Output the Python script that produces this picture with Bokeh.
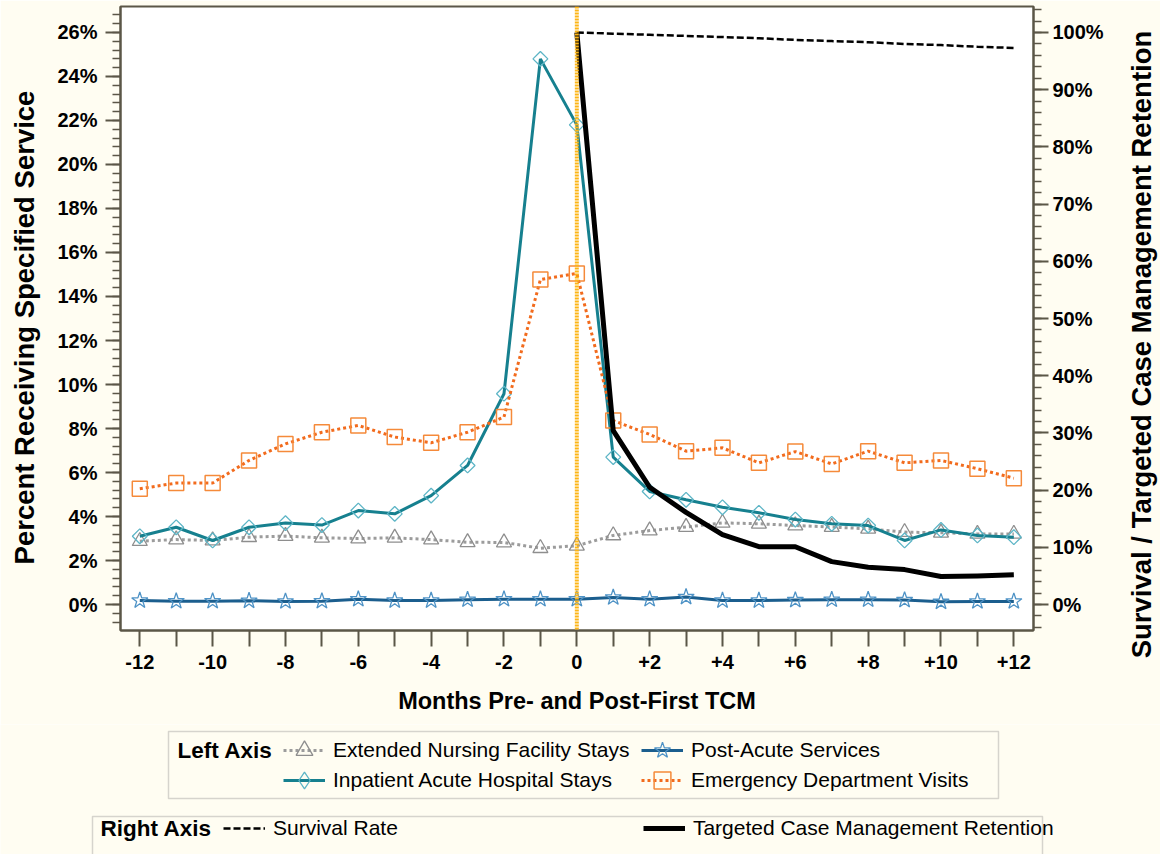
from bokeh.plotting import figure
from bokeh.models import (Range1d, LinearAxis, FixedTicker, PrintfTickFormatter,
                          Legend, LegendItem, Label, BoxAnnotation, Span)
from bokeh.embed import file_html
from bokeh.resources import INLINE

# ---------------- data ----------------
months = [-12, -11, -10, -9, -8, -7, -6, -5, -4, -3, -2, -1, 0,
          1, 2, 3, 4, 5, 6, 7, 8, 9, 10, 11, 12]
post_months = [0, 1, 2, 3, 4, 5, 6, 7, 8, 9, 10, 11, 12]

extended_nursing = [2.88, 2.95, 2.91, 3.06, 3.11, 3.03, 3.00, 3.03, 2.95, 2.83, 2.82, 2.56, 2.67,
                    3.14, 3.36, 3.52, 3.71, 3.67, 3.59, 3.52, 3.44, 3.29, 3.26, 3.21, 3.21]
post_acute = [0.18, 0.15, 0.15, 0.17, 0.14, 0.15, 0.24, 0.18, 0.18, 0.22, 0.24, 0.24, 0.24,
              0.32, 0.24, 0.34, 0.18, 0.18, 0.20, 0.22, 0.22, 0.20, 0.12, 0.14, 0.14]
inpatient = [3.10, 3.51, 2.91, 3.51, 3.70, 3.61, 4.27, 4.12, 4.95, 6.32, 9.58, 24.80, 21.80,
             6.70, 5.14, 4.76, 4.42, 4.17, 3.86, 3.67, 3.59, 2.91, 3.39, 3.14, 3.06]
emergency = [5.26, 5.52, 5.52, 6.55, 7.30, 7.83, 8.14, 7.61, 7.35, 7.83, 8.52, 14.77, 15.05,
             8.36, 7.73, 6.97, 7.12, 6.44, 6.95, 6.39, 6.97, 6.44, 6.55, 6.17, 5.74]
survival = [100.0, 99.8, 99.6, 99.4, 99.2, 99.0, 98.7, 98.5, 98.3, 98.0, 97.8, 97.5, 97.3]
tcm_retention = [100.0, 30.4, 20.5, 16.1, 12.2, 10.1, 10.1, 7.5, 6.5, 6.1, 4.9, 5.0, 5.2]

reference_month = 0

x_tick_values = months
x_tick_labels = ["-12", "", "-10", "", "-8", "", "-6", "", "-4", "", "-2", "", "0",
                 "", "+2", "", "+4", "", "+6", "", "+8", "", "+10", "", "+12"]
left_tick_values = [0, 2, 4, 6, 8, 10, 12, 14, 16, 18, 20, 22, 24, 26]
right_tick_values = [0, 10, 20, 30, 40, 50, 60, 70, 80, 90, 100]

x_axis_title = "Months Pre- and Post-First TCM"
left_axis_title = "Percent Receiving Specified Service"
right_axis_title = "Survival / Targeted Case Management Retention"

# ---------------- style ----------------
FONT = "Liberation Sans"
AXC = "#5B5647"
BG = "#FFFDF2"

ENF_STYLE = dict(line_color="#9C9C9C", line_width=3, line_dash="3 3")
ENF_MK = dict(marker="triangle", size=15, fill_alpha=0, line_color="#8E8E8E", line_width=1.3)
PA_STYLE = dict(line_color="#1B5E8E", line_width=3)
PA_MK = dict(marker="star", size=17, fill_alpha=0, line_color="#4F93C6", line_width=1.3)
IN_STYLE = dict(line_color="#16808F", line_width=3)
IN_MK = dict(marker="square", angle=0.7854, size=10.5, fill_alpha=0, line_color="#5DB5C6",
             line_width=1.3)
IN_MK_LEG = dict(marker="diamond", size=17, fill_alpha=0, line_color="#5DB5C6", line_width=1.3)
ED_STYLE = dict(line_color="#F26B1D", line_width=3, line_dash="3 3")
ED_MK = dict(marker="square", size=15, fill_alpha=0, line_color="#F58A3A", line_width=1.5)
SV_STYLE = dict(line_color="black", line_width=2.5, line_dash="7 3")
TCM_STYLE = dict(line_color="black", line_width=5, line_join="round")

P_HEIGHT = 724
p = figure(width=1160, height=P_HEIGHT, output_backend="svg", toolbar_location=None,
           x_range=Range1d(-12.53, 12.54), y_range=Range1d(-1.1818, 27.1818),
           min_border_left=120, min_border_right=127, min_border_top=6,
           min_border_bottom=P_HEIGHT - 630, background_fill_color="white",
           border_fill_color=BG)
p.extra_y_ranges = {"right": Range1d(-4.545, 104.545)}
p.xgrid.visible = False
p.ygrid.visible = False
p.outline_line_color = AXC
p.outline_line_width = 2

# x axis
xa = p.xaxis[0]
xa.ticker = FixedTicker(ticks=x_tick_values)
xa.major_label_overrides = {v: s for v, s in zip(x_tick_values, x_tick_labels)}
xa.axis_label = x_axis_title

# left axis (title drawn by the overlay strip)
ya = p.yaxis[0]
minor_left = [round(-1.2 + 0.4 * i, 2) for i in range(72)]
ya.ticker = FixedTicker(ticks=left_tick_values, minor_ticks=minor_left)
ya.formatter = PrintfTickFormatter(format="%d%%")

# right axis (title drawn by the overlay strip so it reads bottom-to-top)
minor_right = [-4 + 2 * i for i in range(55)]
ra = LinearAxis(y_range_name="right",
                ticker=FixedTicker(ticks=right_tick_values, minor_ticks=minor_right),
                formatter=PrintfTickFormatter(format="%d%%"))
p.add_layout(ra, "right")

for ax in (xa, ya, ra):
    ax.axis_line_color = AXC
    ax.axis_line_width = 2
    ax.major_tick_line_color = AXC
    ax.minor_tick_line_color = AXC
    ax.major_tick_line_width = 2
    ax.minor_tick_line_width = 1.5
    ax.major_tick_in = 0
    ax.minor_tick_in = 0
    ax.major_tick_out = 15
    ax.minor_tick_out = 8
    ax.major_label_text_font = FONT
    ax.major_label_text_font_size = "20px"
    ax.major_label_text_font_style = "bold"
    ax.major_label_text_color = "black"
    ax.axis_label_text_font = FONT
    ax.axis_label_text_font_style = "bold"
    ax.axis_label_text_color = "black"
xa.major_tick_out = 16
xa.minor_tick_out = 0
xa.major_label_standoff = 8
xa.axis_label_text_font_size = "23.5px"
xa.axis_label_standoff = 16
ya.major_label_standoff = 8
ra.major_label_standoff = 4

# reference line at month 0
p.add_layout(Span(location=reference_month, dimension="height", line_color="#FDB515",
                  line_width=4, line_dash="2 1"))

# ---------------- series ----------------
p.line(months, extended_nursing, **ENF_STYLE)
p.scatter(months, extended_nursing, **ENF_MK)
p.line(months, post_acute, **PA_STYLE)
p.scatter(months, post_acute, **PA_MK)
p.line(months, inpatient, **IN_STYLE)
p.scatter(months, inpatient, **IN_MK)
p.line(months, emergency, **ED_STYLE)
p.scatter(months, emergency, **ED_MK)
p.line(post_months, survival, y_range_name="right", **SV_STYLE)
p.line(post_months, tcm_retention, y_range_name="right", **TCM_STYLE)

# ---------------- legend strip (separate root, page coordinates) ----------------
Q_HEIGHT = 854 - P_HEIGHT
q = figure(width=1160, height=Q_HEIGHT, output_backend="svg", toolbar_location=None,
           x_range=Range1d(0, 1160), y_range=Range1d(854, P_HEIGHT),
           x_axis_type=None, y_axis_type=None,
           min_border=0, min_border_left=0, min_border_right=0,
           min_border_top=0, min_border_bottom=0,
           background_fill_color=BG, border_fill_color=BG)
q.xgrid.visible = False
q.ygrid.visible = False
q.outline_line_color = None

# style carriers for the legend samples (a single NaN point, nothing drawn)
NAN = [float("nan")]
g_enf = [q.line(NAN, NAN, **ENF_STYLE), q.scatter(NAN, NAN, **ENF_MK)]
g_pa = [q.line(NAN, NAN, **PA_STYLE), q.scatter(NAN, NAN, **PA_MK)]
g_in = [q.line(NAN, NAN, **IN_STYLE), q.scatter(NAN, NAN, **IN_MK_LEG)]
g_ed = [q.line(NAN, NAN, **ED_STYLE), q.scatter(NAN, NAN, **ED_MK)]
g_sv = [q.line(NAN, NAN, **SV_STYLE)]
g_tcm = [q.line(NAN, NAN, **TCM_STYLE)]


def style_legend(lg, gh):
    lg.label_text_font = FONT
    lg.label_text_font_size = "21px"
    lg.label_text_color = "black"
    lg.border_line_alpha = 0
    lg.background_fill_alpha = 0
    lg.padding = 0
    lg.margin = 0
    lg.glyph_width = 42
    lg.glyph_height = gh
    lg.label_height = 24
    lg.label_standoff = 8


leg1a = Legend(items=[
    LegendItem(label="Extended Nursing Facility Stays", renderers=g_enf),
    LegendItem(label="Post-Acute Services", renderers=g_pa),
], orientation="horizontal", location=(283, 854 - 774))
leg1b = Legend(items=[
    LegendItem(label="Inpatient Acute Hospital Stays", renderers=g_in),
    LegendItem(label="Emergency Department Visits", renderers=g_ed),
], orientation="horizontal", location=(283, 854 - 804))
for lg in (leg1a, leg1b):
    style_legend(lg, 48)
    lg.spacing = 0
    lg.label_width = 308
    q.add_layout(lg, "center")

leg2 = Legend(items=[
    LegendItem(label="Survival Rate", renderers=g_sv),
    LegendItem(label="Targeted Case Management Retention", renderers=g_tcm),
], orientation="horizontal", location=(223, 854 - 843))
style_legend(leg2, 30)
leg2.spacing = 245
q.add_layout(leg2, "center")

q.add_layout(BoxAnnotation(left=168, right=998, top=731, bottom=798,
                           fill_alpha=0, line_color="#777777", line_width=1.5))
q.add_layout(BoxAnnotation(left=92, right=1042, top=816, bottom=880,
                           fill_alpha=0, line_color="#777777", line_width=1.5))

q.add_layout(Label(x=177, y=750, text="Left Axis",
                   text_font=FONT, text_font_size="22.5px", text_font_style="bold",
                   text_baseline="middle", text_align="left", text_color="black"))
q.add_layout(Label(x=100, y=828, text="Right Axis",
                   text_font=FONT, text_font_size="22.5px", text_font_style="bold",
                   text_baseline="middle", text_align="left", text_color="black"))


# ---------------- axis-title strips (overlaid at the page edges) ----------------
def title_strip(left_px, x_center, y_center, text):
    s = figure(width=40, height=700, output_backend="svg", toolbar_location=None,
               x_range=Range1d(left_px, left_px + 40), y_range=Range1d(700, 0),
               x_axis_type=None, y_axis_type=None,
               min_border=0, min_border_left=0, min_border_right=0,
               min_border_top=0, min_border_bottom=0,
               background_fill_alpha=0, border_fill_alpha=0,
               styles={"position": "absolute", "left": f"{left_px}px", "top": "0px"})
    s.xgrid.visible = False
    s.ygrid.visible = False
    s.outline_line_color = None
    s.add_layout(Label(x=x_center, y=y_center, text=text, angle=1.5708,
                       text_font=FONT, text_font_size="27.5px", text_font_style="bold",
                       text_baseline="middle", text_align="center", text_color="black"))
    return s


t_left = title_strip(4, 24, 327, left_axis_title)
t_right = title_strip(1120, 1141, 344, right_axis_title)

open("out.html", "w").write(file_html([p, q, t_left, t_right], INLINE))
